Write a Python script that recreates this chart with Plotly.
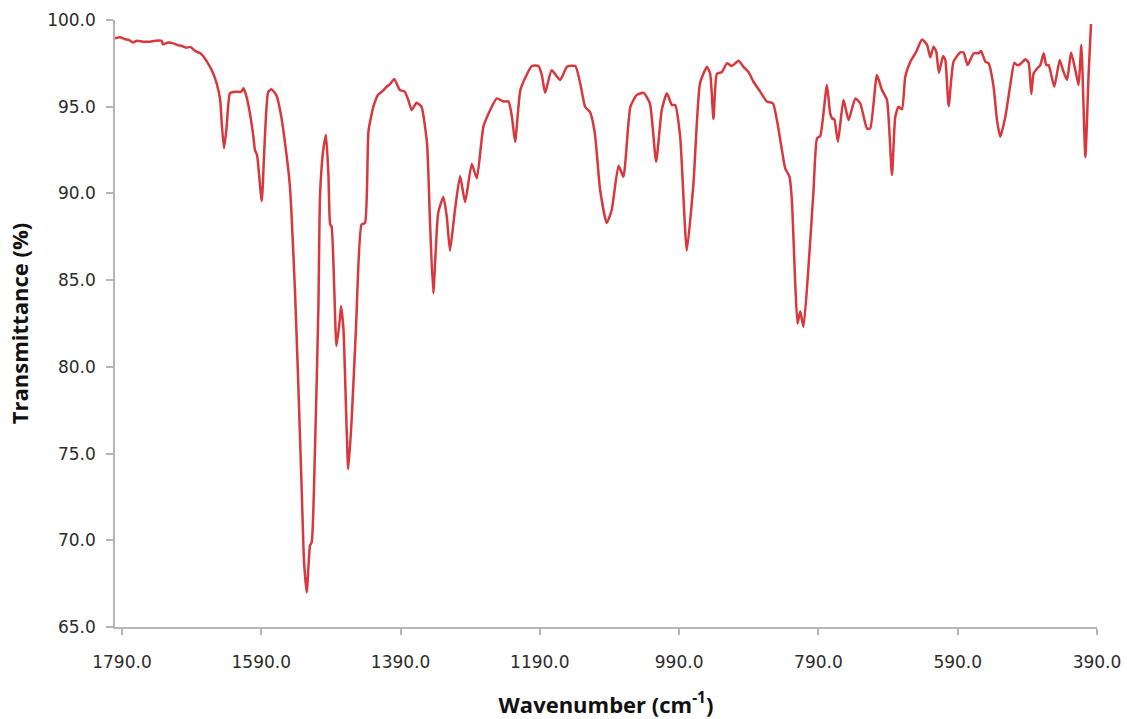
import plotly.graph_objects as go

# FT-IR spectrum: wavenumber (cm^-1) vs. transmittance (%)
wavenumber = [
    1800, 1793, 1786, 1780, 1774, 1769, 1760, 1750, 1742, 1733, 1731, 1724,
    1716, 1710, 1704, 1698, 1692, 1686, 1683, 1678, 1673, 1668, 1661, 1654,
    1649, 1647, 1643.5, 1640, 1635, 1630, 1625, 1620, 1618, 1615.5, 1612, 1608,
    1602, 1599, 1596, 1589.3, 1585.5, 1580, 1575, 1568, 1562, 1556, 1549, 1541.5,
    1537, 1532, 1528.6, 1524.7, 1520, 1517.5, 1513, 1508, 1505.6, 1501, 1497, 1493.5,
    1491, 1489, 1482, 1477, 1475.4, 1472, 1465, 1460, 1454, 1446, 1441, 1436,
    1429, 1422, 1416, 1410, 1405, 1399, 1391, 1384, 1379, 1374, 1367, 1360,
    1352, 1348, 1343, 1336, 1328.5, 1323.6, 1319, 1312, 1304.5, 1297.3, 1287.7, 1280.5,
    1271, 1261.4, 1251.8, 1242.3, 1235, 1230, 1225.5, 1218, 1209, 1201.5, 1192, 1187,
    1182.4, 1173, 1161, 1151, 1139, 1132, 1125, 1118, 1111, 1103.4, 1094, 1087,
    1077, 1070, 1060, 1051, 1041, 1032, 1023, 1015, 1007.6, 1000.4, 995.7, 988.5,
    979, 969.4, 960, 950, 945.4, 940.7, 935.8, 928.6, 921.4, 914.2, 904.7, 897.6,
    890.4, 883.2, 873.6, 864, 855.3, 849.6, 842.4, 837.7, 831.5, 828.1, 823.3, 820,
    816.1, 811.4, 804.2, 797, 792, 787.4, 777.8, 773, 769.7, 767.3, 762, 754,
    746.7, 737, 730, 720.3, 715.6, 706, 698.8, 691.6, 684.4, 679.7, 675, 670,
    665.3, 658, 649.5, 641.3, 634, 629.4, 624.6, 620.8, 617, 611, 607.8, 603,
    596, 586.3, 581.5, 575.8, 567, 560, 556.6, 550.4, 545.6, 538.5, 533.6, 528.8,
    521.7, 514.5, 508.7, 504.9, 500.1, 492.9, 488.2, 484.3, 481, 476, 471.4, 466.6,
    462.8, 459.5, 451.3, 443.6, 438.8, 433, 427.3, 421, 416.4, 412.5, 406.7, 402,
    398.6,
]

transmittance = [
    98.94, 99.0, 98.9, 98.85, 98.7, 98.8, 98.75, 98.75, 98.8, 98.8, 98.6, 98.7,
    98.65, 98.55, 98.5, 98.4, 98.45, 98.25, 98.17, 98.1, 97.9, 97.6, 97.1, 96.35,
    95.4, 94.2, 92.6, 93.7, 95.77, 95.85, 95.87, 95.85, 95.9, 96.06, 95.7, 95.0,
    93.5, 92.5, 92.2, 89.56, 92.6, 95.85, 96.0, 95.63, 94.6, 92.96, 90.48, 84.3,
    79.2, 73.0, 68.8, 67.0, 69.7, 69.9, 75.0, 83.3, 89.9, 92.5, 93.37, 91.0,
    88.2, 88.1, 81.2, 82.8, 83.5, 82.2, 74.1, 77.1, 82.2, 88.2, 88.3, 93.6,
    95.0, 95.7, 95.9, 96.15, 96.3, 96.6, 95.96, 95.87, 95.4, 94.8, 95.23, 95.0,
    92.9, 88.66, 84.24, 88.85, 89.8, 88.66, 86.7, 89.0, 91.0, 89.5, 91.7, 90.87,
    93.85, 94.8, 95.48, 95.3, 95.3, 94.4, 92.98, 95.96, 96.83, 97.35, 97.35, 96.8,
    95.8, 97.1, 96.54, 97.3, 97.35, 96.35, 95.0, 94.7, 93.46, 90.2, 88.3, 89.0,
    91.6, 90.96, 95.0, 95.67, 95.8, 95.2, 91.83, 94.8, 95.77, 95.1, 95.1, 93.27,
    86.7, 90.58, 96.35, 97.3, 96.9, 94.3, 96.9, 97.0, 97.5, 97.35, 97.65, 97.3,
    97.0, 96.44, 95.87, 95.3, 95.2, 94.23, 92.5, 91.45, 90.96, 89.6, 84.8, 82.5,
    83.2, 82.3, 85.8, 90.2, 93.18, 93.3, 96.25, 94.6, 94.3, 94.3, 92.98, 95.4,
    94.23, 95.48, 95.2, 93.75, 93.75, 96.83, 95.96, 95.4, 91.06, 94.4, 95.0, 94.85,
    96.73, 97.6, 98.17, 98.88, 98.56, 97.85, 98.46, 98.17, 96.96, 97.92, 97.7, 95.04,
    97.6, 98.13, 98.13, 97.4, 98.08, 98.08, 98.23, 97.6, 97.5, 96.15, 94.23, 93.27,
    94.4, 96.25, 97.54, 97.4, 97.46, 97.73, 97.54, 95.73, 96.92, 97.2, 97.4, 98.08,
    97.4, 97.4, 96.15, 97.7, 97.1, 96.54, 98.12, 97.1, 96.25, 98.56, 92.1, 96.92,
    99.77,
]

x_ticks = [1790, 1590, 1390, 1190, 990, 790, 590, 390]
y_ticks = [65, 70, 75, 80, 85, 90, 95, 100]

axis_color = "#b5b5b5"
tick_font = dict(family="DejaVu Sans", size=17, color="#2b2b2b")
title_font = dict(family="Open Sans", size=22, color="#111111", weight="bold")

fig = go.Figure(
    go.Scatter(
        x=wavenumber,
        y=transmittance,
        mode="lines",
        line=dict(color="#d8383c", width=2.5, shape="spline", smoothing=0.5),
        hoverinfo="skip",
    )
)

fig.update_layout(
    width=1127,
    height=719,
    margin=dict(l=115, r=30, t=20, b=92),
    paper_bgcolor="white",
    plot_bgcolor="white",
    showlegend=False,
    xaxis=dict(
        range=[1800, 390],
        tickvals=x_ticks,
        tickformat=".1f",
        ticks="outside",
        ticklen=6,
        tickwidth=1.5,
        tickcolor=axis_color,
        ticklabelstandoff=13,
        showline=True,
        linecolor=axis_color,
        linewidth=1.5,
        showgrid=False,
        zeroline=False,
        automargin=False,
        tickfont=tick_font,
        title=dict(text="Wavenumber (cm<sup>-1</sup>)", font=title_font, standoff=26),
    ),
    yaxis=dict(
        range=[65, 100],
        tickvals=y_ticks,
        tickformat=".1f",
        ticks="outside",
        ticklen=7,
        tickwidth=1.5,
        tickcolor=axis_color,
        ticklabelstandoff=7,
        showline=True,
        linecolor=axis_color,
        linewidth=1.5,
        showgrid=False,
        zeroline=False,
        automargin=False,
        tickfont=tick_font,
        title=dict(text="Transmittance (%)", font=title_font, standoff=12),
    ),
)

fig.write_html("out.html")
